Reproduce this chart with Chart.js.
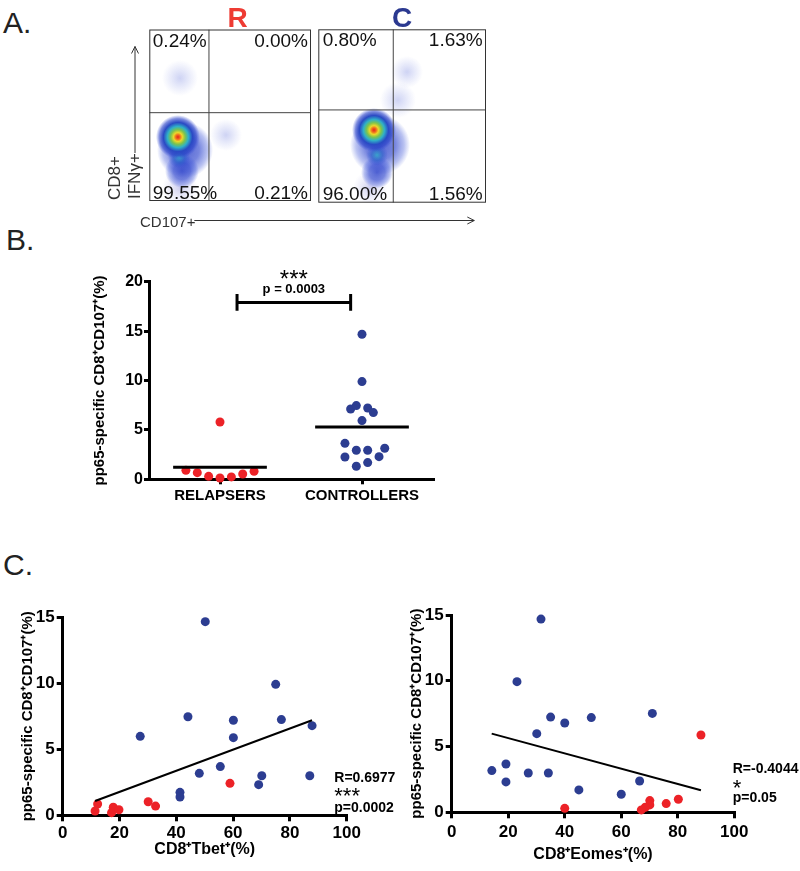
<!DOCTYPE html>
<html>
<head>
<meta charset="utf-8">
<script src="https://cdn.jsdelivr.net/npm/chart.js@4.4.1/dist/chart.umd.min.js"></script>
<style>
  body { margin: 0; background: #fff; }
  #page { position: relative; width: 800px; height: 871px; background: #fff; font-family: 'Liberation Sans', Arial, sans-serif; }
  #page canvas { position: absolute; }
  .tag { position: absolute; font-size: 30px; line-height: 1; color: #222; }
</style>
</head>
<body>
<div id="page">
  <div class="tag" style="left:3px;top:8px">A.</div>
  <div class="tag" style="left:6px;top:225px">B.</div>
  <div class="tag" style="left:3px;top:550px">C.</div>
  <canvas id="flowR" width="400" height="235" style="left:100px;top:0"></canvas>
  <canvas id="flowC" width="188" height="235" style="left:312px;top:0"></canvas>
  <canvas id="dotB" width="360" height="260" style="left:87px;top:250px"></canvas>
  <canvas id="tbet" width="385" height="274" style="left:15px;top:590px"></canvas>
  <canvas id="eomes" width="396" height="279" style="left:404px;top:590px"></canvas>
</div>
<script>
const FONT = "'Liberation Sans', Arial, Helvetica, sans-serif"
const RED = "#ec2227"
const BLUE = "#2c3d91"

// A. flow plots
const flowTitles = ["R", "C"]
const relapserQuadrants = ["0.24%", "0.00%", "99.55%", "0.21%"]
const controllerQuadrants = ["0.80%", "1.63%", "96.00%", "1.56%"]
// gate positions, % of the CD107 / IFNγ axes
const relapserGate = [36.9, 51.5]
const controllerGate = [44.7, 53.5]
// density blobs (x, y in % of axis, spread in px)
const relapserHotX = [17.7], relapserHotY = [37.3], relapserHotR = [22]
const relapserTealX = [18.4], relapserTealY = [25.5], relapserTealR = [11]
const relapserCoolX = [22.1, 20.2], relapserCoolY = [29.7, 17.5], relapserCoolR = [28, 17]
const relapserSparseX = [19.0, 47.4], relapserSparseY = [71.7, 38.5], relapserSparseR = [18, 16]
const relapserHazeX = [19.0], relapserHazeY = [7.6], relapserHazeR = [18]
const controllerHotX = [33.2], controllerHotY = [41.9], controllerHotR = [22]
const controllerTealX = [35.0], controllerTealY = [27.5], controllerTealR = [11]
const controllerCoolX = [36.8, 35.0], controllerCoolY = [33.3, 17.5], controllerCoolR = [30, 16]
const controllerSparseX = [47.5, 52.9], controllerSparseY = [59.2, 75.4], controllerSparseR = [18, 16]
const controllerHazeX = [30.8], controllerHazeY = [8.5], controllerHazeR = [17]

// B. dot plot
const groups = ["RELAPSERS", "CONTROLLERS"]
const relapserPos = [0.76, 0.84, 0.92, 1.0, 1.0, 1.08, 1.16, 1.24]
const relapserCD107 = [0.91, 0.67, 0.3, 5.8, 0.13, 0.24, 0.54, 0.81]
const controllerPos = [2.0, 2.0, 1.92, 1.96, 2.04, 2.08, 2.0, 1.88, 1.96, 2.04, 2.16, 1.88, 2.12, 1.96, 2.04]
const controllerCD107 = [14.68, 9.89, 7.12, 7.46, 7.22, 6.75, 5.94, 3.64, 2.94, 2.94, 3.14, 2.26, 2.29, 1.32, 1.69]
const groupMeans = [1.21, 5.3]
const bracketX = [1.12, 1.92]
const bracketY = 17.9
const pValueB = "p = 0.0003"

// C. correlations
const tbetRelapsers = [12.3, 11.4, 17.8, 17.2, 19.8, 30.1, 32.7, 58.9]
const cd107RelapsersTbet = [0.86, 0.33, 0.61, 0.2, 0.42, 1.03, 0.7, 2.42]
const tbetControllers = [50.2, 75.0, 44.1, 60.1, 77.0, 87.8, 27.3, 60.1, 55.5, 48.1, 70.1, 87.0, 69.0, 41.3, 41.3]
const cd107ControllersTbet = [14.67, 9.92, 7.47, 7.2, 7.25, 6.79, 5.98, 5.88, 3.69, 3.18, 3.0, 3.0, 2.32, 1.74, 1.39]
const tbetFitX = [11.4, 87.8]
const tbetFitY = [1.08, 7.2]
const tbetStats = ["R=0.6977", "***", "p=0.0002"]

const eomesRelapsers = [88.2, 40.0, 80.2, 75.9, 70.1, 70.1, 68.5, 67.1]
const cd107RelapsersEomes = [5.88, 0.3, 0.99, 0.66, 0.89, 0.56, 0.38, 0.18]
const eomesControllers = [31.6, 23.1, 35.0, 40.0, 49.4, 71.0, 30.1, 14.2, 19.2, 27.1, 34.2, 19.2, 45.0, 60.0, 66.5]
const cd107ControllersEomes = [14.69, 9.93, 7.24, 6.79, 7.2, 7.52, 5.98, 3.17, 3.67, 2.99, 2.99, 2.31, 1.7, 1.37, 2.38]
const eomesFitX = [14.15, 88.2]
const eomesFitY = [5.98, 1.67]
const eomesStats = ["R=-0.4044", "*", "p=0.05"]

const yTitle = "pp65-specific CD8\u207ACD107\u207A(%)"

Chart.defaults.font.family = FONT
Chart.defaults.color = "#000"
Chart.defaults.animation = false
Chart.defaults.responsive = false
Chart.defaults.events = []
Chart.defaults.plugins.legend.display = false
Chart.defaults.plugins.tooltip.enabled = false

const zip = (xs, ys) => xs.map((x, i) => ({ x, y: ys[i] }))
const zip3 = (xs, ys, rs) => xs.map((x, i) => ({ x, y: ys[i], r: rs[i] }))

const palettes = {
  hot: [[0, "#e3261c"], [0.1, "#f06a1c"], [0.2, "#ecd72a"], [0.33, "#7cc44c"], [0.48, "#2fb0c8"], [0.66, "#2a4ac4"], [0.84, "rgba(40,64,200,0.6)"], [1, "rgba(60,85,220,0)"]],
  teal: [[0, "rgba(50,170,200,0.85)"], [0.5, "rgba(40,100,200,0.6)"], [1, "rgba(50,75,210,0)"]],
  cool: [[0, "rgba(40,62,200,0.8)"], [0.5, "rgba(45,68,205,0.65)"], [0.8, "rgba(55,80,215,0.35)"], [1, "rgba(60,85,220,0)"]],
  sparse: [[0, "rgba(60,80,210,0.25)"], [1, "rgba(80,100,220,0)"]],
  haze: [[0, "rgba(185,185,232,0.7)"], [1, "rgba(205,205,240,0)"]],
}

const radial = (kind) => (c) => {
  const raw = c.raw
  if (!raw) return "rgba(0,0,0,0)"
  const x = c.chart.scales.x.getPixelForValue(raw.x)
  const y = c.chart.scales.y.getPixelForValue(raw.y)
  if (!isFinite(x) || !isFinite(y)) return "rgba(0,0,0,0)"
  const g = c.chart.ctx.createRadialGradient(x, y, 0, x, y, raw.r)
  palettes[kind].forEach(([o, col]) => g.addColorStop(o, col))
  return g
}

const cloud = (xs, ys, rs, kind) => ({
  type: "bubble",
  data: zip3(xs, ys, rs),
  backgroundColor: radial(kind),
  borderWidth: 0,
})

const gateLines = (gate) => [
  { type: "scatter", data: [{ x: gate[0], y: 0 }, { x: gate[0], y: 100 }], showLine: true, borderColor: "#444", borderWidth: 1, pointRadius: 0 },
  { type: "scatter", data: [{ x: 0, y: gate[1] }, { x: 100, y: gate[1] }], showLine: true, borderColor: "#444", borderWidth: 1, pointRadius: 0 },
]

// box, quadrant numbers, group letter and (left plot only) the axis arrows
const flowBox = {
  id: "flowBox",
  afterDatasetsDraw(chart, args, o) {
    const { ctx, chartArea: a } = chart
    ctx.save()
    ctx.strokeStyle = "#333"
    ctx.lineWidth = 1
    ctx.strokeRect(a.left + 0.5, a.top + 0.5, a.width - 1, a.height - 1)

    ctx.fillStyle = "#111"
    ctx.font = "19px " + FONT
    ctx.textBaseline = "alphabetic"
    const [tl, tr, bl, br] = o.quadrants
    ctx.textAlign = "left"
    ctx.fillText(tl, a.left + o.inset[0], a.top + 17)
    ctx.fillText(bl, a.left + o.inset[0], a.bottom - 2.5)
    ctx.textAlign = "right"
    ctx.fillText(tr, a.right - o.inset[1], a.top + 17)
    ctx.fillText(br, a.right - o.inset[1], a.bottom - 2.5)

    ctx.font = "bold 28px " + FONT
    ctx.fillStyle = o.titleColor
    ctx.textAlign = "center"
    ctx.fillText(o.title, a.left + o.titleX, 26.5)

    if (o.axes) {
      ctx.strokeStyle = "#333"
      ctx.fillStyle = "#333"
      ctx.lineWidth = 1
      // IFNγ arrow
      const vx = a.left - 14.3
      ctx.beginPath()
      ctx.moveTo(vx, a.bottom - 48)
      ctx.lineTo(vx, a.top + 17)
      ctx.moveTo(vx - 3.5, a.top + 24)
      ctx.lineTo(vx, a.top + 17)
      ctx.lineTo(vx + 3.5, a.top + 24)
      ctx.stroke()
      // CD107 arrow
      const hy = a.bottom + 19.5
      ctx.beginPath()
      ctx.moveTo(a.left + 45, hy)
      ctx.lineTo(a.left + 325, hy)
      ctx.moveTo(a.left + 318, hy - 3.5)
      ctx.lineTo(a.left + 325, hy)
      ctx.lineTo(a.left + 318, hy + 3.5)
      ctx.stroke()

      ctx.font = "15px " + FONT
      ctx.textAlign = "left"
      ctx.fillText("CD107+", a.left - 9.3, a.bottom + 25.5)

      ctx.font = "17px " + FONT
      ctx.save()
      ctx.translate(a.left - 29.3, a.bottom - 1)
      ctx.rotate(-Math.PI / 2)
      ctx.fillText("CD8+", 0, 0)
      ctx.restore()
      ctx.save()
      ctx.translate(a.left - 9, a.bottom - 2)
      ctx.rotate(-Math.PI / 2)
      ctx.fillText("IFN\u03B3+", 0, 0)
      ctx.restore()
    }
    ctx.restore()
  },
}

const flowChart = (id, padding, sets, box) => new Chart(document.getElementById(id), {
  type: "bubble",
  data: { datasets: sets },
  options: {
    layout: { padding, autoPadding: false },
    scales: {
      x: { type: "linear", min: 0, max: 100, display: false },
      y: { type: "linear", min: 0, max: 100, display: false },
    },
    plugins: { flowBox: box },
  },
  plugins: [flowBox],
})

flowChart("flowR", { left: 49.3, top: 29.5, right: 189, bottom: 34 }, [
  ...gateLines(relapserGate),
  cloud(relapserHotX, relapserHotY, relapserHotR, "hot"),
  cloud(relapserTealX, relapserTealY, relapserTealR, "teal"),
  cloud(relapserCoolX, relapserCoolY, relapserCoolR, "cool"),
  cloud(relapserSparseX, relapserSparseY, relapserSparseR, "sparse"),
  cloud(relapserHazeX, relapserHazeY, relapserHazeR, "haze"),
], { quadrants: relapserQuadrants, inset: [3.5, 3], title: flowTitles[0], titleColor: "#ee3b33", titleX: 88.2, axes: true })

flowChart("flowC", { left: 6.3, top: 29.3, right: 14, bottom: 32.3 }, [
  ...gateLines(controllerGate),
  cloud(controllerHotX, controllerHotY, controllerHotR, "hot"),
  cloud(controllerTealX, controllerTealY, controllerTealR, "teal"),
  cloud(controllerCoolX, controllerCoolY, controllerCoolR, "cool"),
  cloud(controllerSparseX, controllerSparseY, controllerSparseR, "sparse"),
  cloud(controllerHazeX, controllerHazeY, controllerHazeR, "haze"),
], { quadrants: controllerQuadrants, inset: [4.4, 3.3], title: flowTitles[1], titleColor: "#2b3990", titleX: 83.7, axes: false })

// shared axis styling for B and C
const tickGrid = (len) => ({ display: true, drawOnChartArea: false, drawTicks: true, tickLength: len, tickWidth: 3, tickColor: "#000", color: "#000", lineWidth: 3 })
const axisBorder = { display: true, color: "#000", width: 3 }

const dots = (pts, color) => ({ data: pts, backgroundColor: color, pointRadius: 4.5, pointBorderWidth: 0, clip: false })
const segment = (pts, width) => ({ data: pts, showLine: true, borderColor: "#000", borderWidth: width, pointRadius: 0, clip: false })

// B. bracket label
const sigBar = {
  id: "sigBar",
  afterDatasetsDraw(chart) {
    const { ctx, scales: { x, y } } = chart
    const cx = x.getPixelForValue((bracketX[0] + bracketX[1]) / 2)
    const by = y.getPixelForValue(bracketY)
    ctx.save()
    ctx.fillStyle = "#000"
    ctx.textAlign = "center"
    ctx.textBaseline = "alphabetic"
    ctx.font = "24px " + FONT
    ctx.fillText("***", cx, by - 15)
    ctx.font = "bold 13px " + FONT
    ctx.fillText(pValueB, cx, by - 9.4)
    ctx.restore()
  },
}

const meanLine = (c, m) => [{ x: c - 0.33, y: m }, { x: c + 0.33, y: m }]
const bracket = [
  { x: bracketX[0], y: bracketY + 0.85 }, { x: bracketX[0], y: bracketY - 0.85 }, { x: bracketX[0], y: bracketY },
  { x: bracketX[1], y: bracketY }, { x: bracketX[1], y: bracketY + 0.85 }, { x: bracketX[1], y: bracketY - 0.85 },
]

new Chart(document.getElementById("dotB"), {
  type: "scatter",
  data: {
    datasets: [
      segment(bracket, 3),
      segment(meanLine(1, groupMeans[0]), 3),
      segment(meanLine(2, groupMeans[1]), 3),
      dots(zip(relapserPos, relapserCD107), RED),
      dots(zip(controllerPos, controllerCD107), BLUE),
    ],
  },
  options: {
    layout: { padding: { left: 0, top: 31.7, right: 14, bottom: 0 }, autoPadding: false },
    scales: {
      x: {
        type: "linear", min: 0.5, max: 2.5,
        afterBuildTicks: (s) => { s.ticks = groups.map((g, i) => ({ value: i + 1 })) },
        afterFit: (s) => { s.height = 30.7 },
        ticks: { callback: (v) => groups[v - 1], font: { size: 15, weight: "bold" }, padding: 3, maxRotation: 0, autoSkip: false },
        grid: tickGrid(5),
        border: axisBorder,
      },
      y: {
        min: 0, max: 20,
        afterFit: (s) => { s.width = 62 },
        ticks: { stepSize: 5, font: { size: 16, weight: "bold" }, padding: 1 },
        grid: tickGrid(5),
        border: axisBorder,
        title: { display: true, text: yTitle, font: { size: 15, weight: "bold" }, padding: { top: 4, bottom: 0 } },
      },
    },
  },
  plugins: [sigBar],
})

// C. R / stars / p text beside each regression
const corrStats = {
  id: "corrStats",
  afterDatasetsDraw(chart, args, o) {
    const { ctx, chartArea: a } = chart
    ctx.save()
    ctx.fillStyle = "#000"
    ctx.textAlign = "left"
    ctx.textBaseline = "alphabetic"
    o.lines.forEach((t, i) => {
      ctx.font = (i === 1 ? "22px " : "bold 14px ") + FONT
      ctx.fillText(t, a.right + o.dx, a.bottom + o.dy[i])
    })
    ctx.restore()
  },
}

const corrChart = (id, cfg) => new Chart(document.getElementById(id), {
  type: "scatter",
  data: {
    datasets: [
      segment(zip(cfg.fitX, cfg.fitY), 2),
      dots(zip(cfg.relX, cfg.relY), RED),
      dots(zip(cfg.ctlX, cfg.ctlY), BLUE),
    ],
  },
  options: {
    layout: { padding: cfg.padding, autoPadding: false },
    scales: {
      x: {
        min: 0, max: 100,
        afterFit: (s) => { s.height = cfg.xHeight },
        ticks: { stepSize: 20, font: { size: 17, weight: "bold" }, padding: cfg.xPad, maxRotation: 0 },
        grid: tickGrid(6),
        border: axisBorder,
        title: { display: true, text: cfg.xTitle, font: { size: 16, weight: "bold" }, padding: { top: 4, bottom: cfg.titlePad } },
      },
      y: {
        min: 0, max: 15,
        afterFit: (s) => { s.width = cfg.yWidth },
        ticks: { stepSize: 5, font: { size: 17, weight: "bold" }, padding: 2 },
        grid: tickGrid(6),
        border: axisBorder,
        title: { display: true, text: yTitle, font: { size: 15, weight: "bold" }, padding: { top: 4, bottom: 0 } },
      },
    },
    plugins: { corrStats: { lines: cfg.stats, dx: cfg.statsDx, dy: cfg.statsDy } },
  },
  plugins: [corrStats],
})

corrChart("tbet", {
  fitX: tbetFitX, fitY: tbetFitY,
  relX: tbetRelapsers, relY: cd107RelapsersTbet,
  ctlX: tbetControllers, ctlY: cd107ControllersTbet,
  xTitle: "CD8\u207ATbet\u207A(%)",
  stats: tbetStats, statsDx: -12.4, statsDy: [-33.6, -12.8, -3.6],
  padding: { left: 0, top: 27.3, right: 53.3, bottom: 0 },
  yWidth: 47.7, xHeight: 48.7, xPad: 2, titlePad: 4.4,
})

corrChart("eomes", {
  fitX: eomesFitX, fitY: eomesFitY,
  relX: eomesRelapsers, relY: cd107RelapsersEomes,
  ctlX: eomesControllers, ctlY: cd107ControllersEomes,
  xTitle: "CD8\u207AEomes\u207A(%)",
  stats: eomesStats, statsDx: -1.6, statsDy: [-39, -17.3, -10.6],
  padding: { left: 0, top: 25, right: 65.7, bottom: 0 },
  yWidth: 47.7, xHeight: 56.7, xPad: 3.5, titlePad: 4.4,
})
</script>
</body>
</html>
